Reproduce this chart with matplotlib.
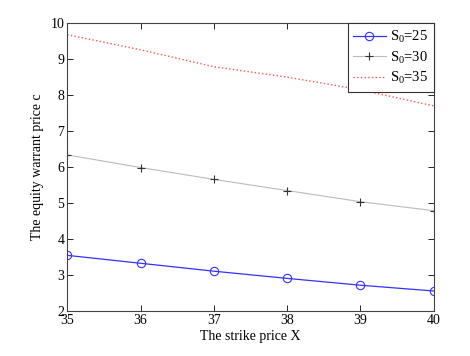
import numpy as np
import matplotlib
matplotlib.use("Agg")
import matplotlib.pyplot as plt

plt.rcParams['font.family'] = ['Liberation Serif', 'DejaVu Serif']
plt.rcParams['mathtext.fontset'] = 'custom'
plt.rcParams['mathtext.rm'] = 'Liberation Serif'
plt.rcParams['mathtext.it'] = 'Liberation Serif:italic'

# strike prices
X = [35, 36, 37, 38, 39, 40]

# warrant prices for each initial stock price
c_s25 = [3.55, 3.33, 3.11, 2.91, 2.72, 2.56]
c_s30 = [6.34, 5.99, 5.66, 5.35, 5.04, 4.79]
c_s35 = [9.68, 9.26, 8.79, 8.50, 8.15, 7.70]

fig = plt.figure(figsize=(4.7, 3.56), dpi=100)
ax = fig.add_axes([0.143, 0.126, 0.78, 0.809])

ax.plot(X, c_s25, '-o', color='#3333ff', lw=0.9, ms=6, mfc='none', mew=0.8,
        label=r'S$_0$=25')
ax.plot(X, c_s30, '-+', color='#bbbbbb', lw=0.8, ms=6, mec='#333333', mew=0.8,
        label=r'S$_0$=30')
ax.plot(X, c_s35, ':', color='#ff5555', lw=1.0, label=r'S$_0$=35')

ax.set_xlim(35, 40)
ax.set_ylim(2, 10)
ax.set_xticks(range(35, 41))
ax.set_yticks(range(2, 11))
ax.tick_params(direction='in', top=True, right=True, labelsize=10, length=4,
               width=0.6, pad=2)
for s in ax.spines.values():
    s.set_linewidth(0.8)
    s.set_color('#444444')

ax.set_xlabel('The strike price X', fontsize=10, labelpad=2)
ax.set_ylabel('The equity warrant price c', fontsize=10, labelpad=5)

leg = ax.legend(loc='upper right', fontsize=10.5, fancybox=False, framealpha=1,
                edgecolor='#333333', borderaxespad=0, handlelength=2.2,
                labelspacing=0.3, borderpad=0.4, handletextpad=0.3)
leg.get_frame().set_linewidth(0.8)

fig.savefig('out.png', dpi=100)
